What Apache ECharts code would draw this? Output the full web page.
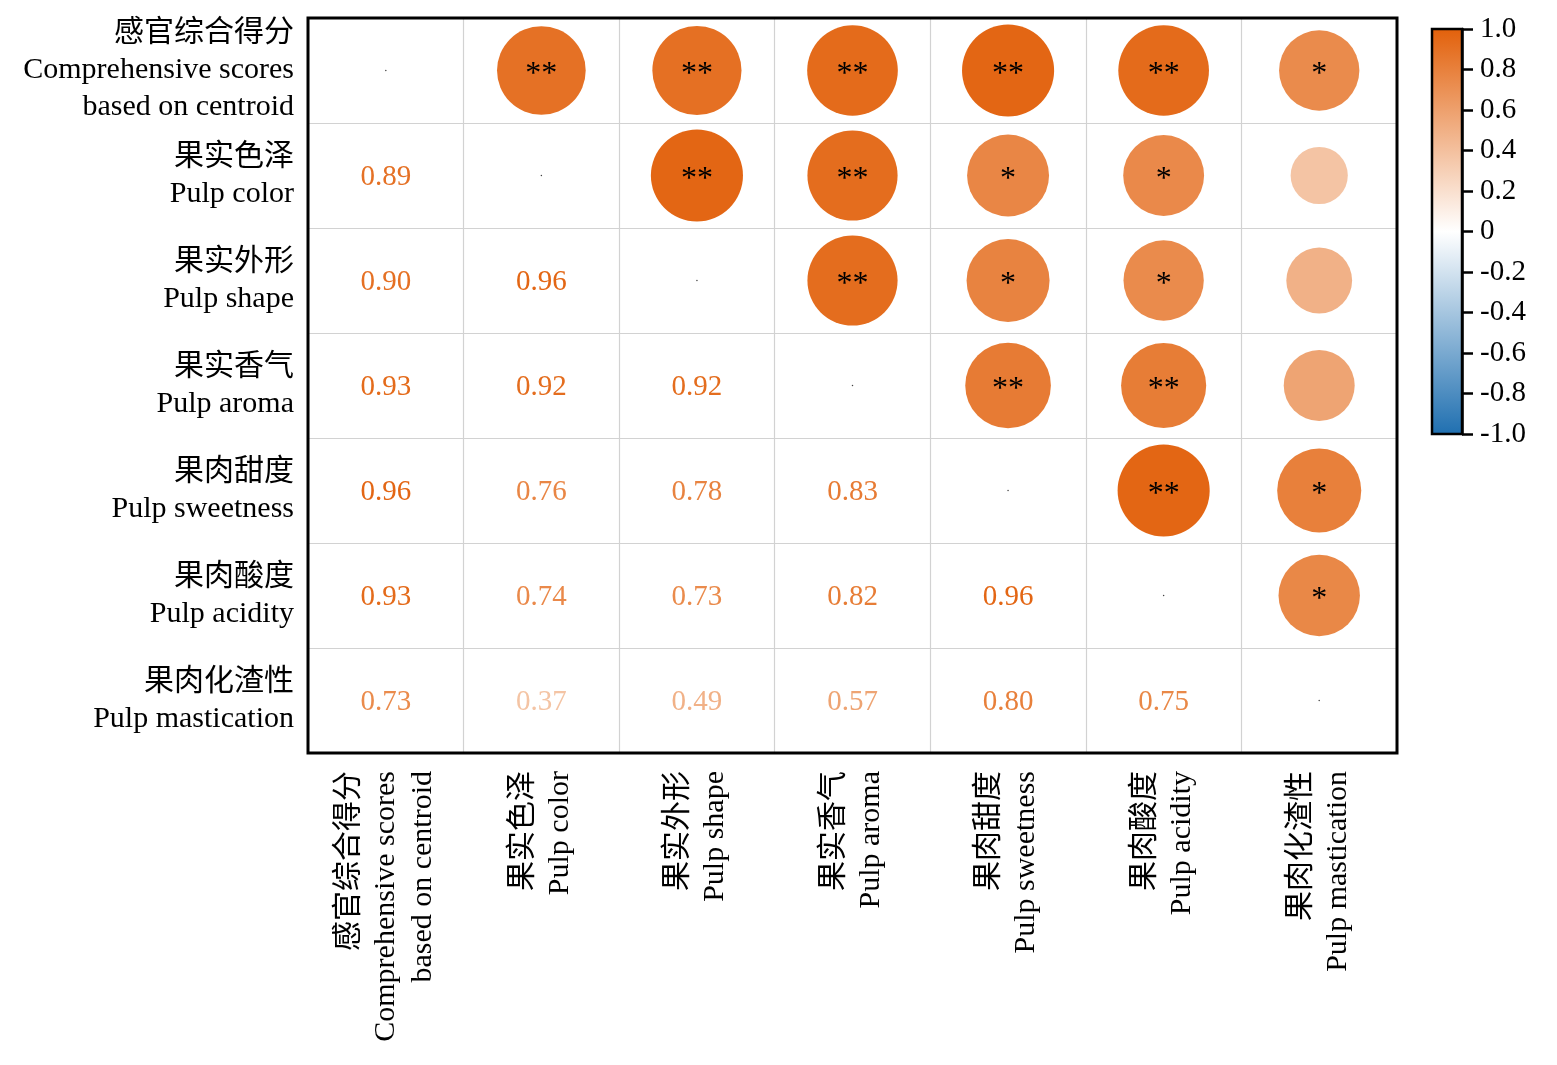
<!DOCTYPE html>
<html>
<head>
<meta charset="utf-8">
<script src="https://cdn.jsdelivr.net/npm/echarts@6/dist/echarts.min.js"></script>
<style>html,body{margin:0;padding:0;background:#fff}#c{width:1557px;height:1065px}</style>
</head>
<body>
<div id="c"></div>
<script>
// Variables (categories)
const categories = [
  '感官综合得分\nComprehensive scores\nbased on centroid',
  '果实色泽\nPulp color',
  '果实外形\nPulp shape',
  '果实香气\nPulp aroma',
  '果肉甜度\nPulp sweetness',
  '果肉酸度\nPulp acidity',
  '果肉化渣性\nPulp mastication'
];
// Lower-triangle correlation coefficients, row by row (row i, columns 0..i-1)
const corrRow1 = [0.89];
const corrRow2 = [0.90, 0.96];
const corrRow3 = [0.93, 0.92, 0.92];
const corrRow4 = [0.96, 0.76, 0.78, 0.83];
const corrRow5 = [0.93, 0.74, 0.73, 0.82, 0.96];
const corrRow6 = [0.73, 0.37, 0.49, 0.57, 0.80, 0.75];
// Significance marks for the same pairs
const sigRow1 = ['**'];
const sigRow2 = ['**', '**'];
const sigRow3 = ['**', '**', '**'];
const sigRow4 = ['**', '*', '*', '**'];
const sigRow5 = ['**', '*', '*', '**', '**'];
const sigRow6 = ['*', '', '', '', '*', '*'];
// Colour bar ticks
const colorbarTicks = [-1.0, -0.8, -0.6, -0.4, -0.2, 0, 0.2, 0.4, 0.6, 0.8, 1.0];

const corrRows = [[], corrRow1, corrRow2, corrRow3, corrRow4, corrRow5, corrRow6];
const sigRows = [[], sigRow1, sigRow2, sigRow3, sigRow4, sigRow5, sigRow6];

const POS = [226, 96, 10];   // orange end (+1)
const NEG = [31, 111, 176];  // blue end (-1)
function colorOf(r) {
  const c = r >= 0 ? POS : NEG;
  const t = Math.min(1, Math.abs(r));
  const m = c.map(v => Math.round(255 + (v - 255) * t));
  return 'rgb(' + m.join(',') + ')';
}

const circleData = [];
const textData = [];
const diagData = [];
for (let i = 0; i < categories.length; i++) {
  diagData.push([i, i]);
  for (let j = 0; j < i; j++) {
    const r = corrRows[i][j];
    const s = sigRows[i][j];
    textData.push({ value: [j, i, r], label: { color: colorOf(r) } });
    circleData.push({ value: [i, j, r, s], itemStyle: { color: colorOf(r), opacity: 1 } });
  }
}

const serif = '"Liberation Serif", "Times New Roman", "Noto Sans CJK SC", serif';
const chart = echarts.init(document.getElementById('c'));
chart.setOption({
  animation: false,
  backgroundColor: '#fff',
  grid: [
    { left: 308, top: 18, width: 1089, height: 735, show: true, borderColor: '#000', borderWidth: 3, z: 5, backgroundColor: 'transparent' },
    { left: 1432, top: 29, width: 30, height: 405 }
  ],
  xAxis: [
    {
      gridIndex: 0, type: 'category', data: categories, position: 'bottom',
      axisLine: { show: false }, axisTick: { show: false },
      splitLine: { show: true, lineStyle: { color: '#d2d2d2', width: 1.2 } },
      axisLabel: { rotate: 90, margin: 18, fontSize: 30, lineHeight: 37, color: '#000', fontFamily: serif, interval: 0 }
    },
    { gridIndex: 1, type: 'value', min: 0, max: 1, show: false }
  ],
  yAxis: [
    {
      gridIndex: 0, type: 'category', data: categories, inverse: true,
      axisLine: { show: false }, axisTick: { show: false },
      splitLine: { show: true, lineStyle: { color: '#d2d2d2', width: 1.2 } },
      axisLabel: { margin: 14, fontSize: 30, lineHeight: 37, padding: [9, 0, 0, 0], color: '#000', fontFamily: serif, align: 'right', interval: 0 }
    },
    {
      gridIndex: 1, type: 'value', min: colorbarTicks[0], max: colorbarTicks[colorbarTicks.length - 1], interval: 0.2,
      position: 'right', z: 10,
      axisLine: { show: true, onZero: false, lineStyle: { color: '#000', width: 2.5 } },
      axisTick: { show: true, inside: false, length: 11, lineStyle: { color: '#000', width: 2.5 } },
      splitLine: { show: false },
      axisLabel: {
        show: true, inside: false,
        margin: 18, fontSize: 29, color: '#000', fontFamily: serif,
        formatter: v => Math.abs(v) < 1e-9 ? '0' : v.toFixed(1)
      }
    }
  ],
  series: [
    {
      type: 'scatter', xAxisIndex: 0, yAxisIndex: 0, z: 3,
      data: circleData,
      symbol: 'circle',
      itemStyle: { opacity: 1 },
      symbolSize: v => 94 * Math.sqrt(Math.abs(v[2])),
      label: {
        show: true, position: 'inside', formatter: p => p.value[3],
        color: '#000', opacity: 1, fontSize: 32, fontFamily: serif, offset: [0, 4]
      }
    },
    {
      type: 'scatter', xAxisIndex: 0, yAxisIndex: 0, z: 3,
      data: textData, symbolSize: 0,
      itemStyle: { opacity: 1 },
      label: {
        show: true, position: 'inside', opacity: 1, formatter: p => p.value[2].toFixed(2),
        fontSize: 29, fontFamily: serif, offset: [0, 2]
      }
    },
    {
      type: 'scatter', xAxisIndex: 0, yAxisIndex: 0, z: 3,
      data: diagData, symbolSize: 1.5, itemStyle: { color: '#444', opacity: 1 }
    },
    {
      type: 'custom', xAxisIndex: 1, yAxisIndex: 1, z: 0,
      data: [[0, 0]],
      renderItem: (params, api) => {
        const p1 = api.coord([0, colorbarTicks[colorbarTicks.length - 1]]);
        const p2 = api.coord([1, colorbarTicks[0]]);
        return {
          type: 'rect',
          shape: { x: p1[0], y: p1[1], width: p2[0] - p1[0], height: p2[1] - p1[1] },
          style: {
            fill: new echarts.graphic.LinearGradient(0, 0, 0, 1, [
              { offset: 0, color: colorOf(1) },
              { offset: 0.5, color: colorOf(0) },
              { offset: 1, color: colorOf(-1) }
            ]),
            stroke: '#000', lineWidth: 2.5
          }
        };
      }
    }
  ]
});
</script>
</body>
</html>
